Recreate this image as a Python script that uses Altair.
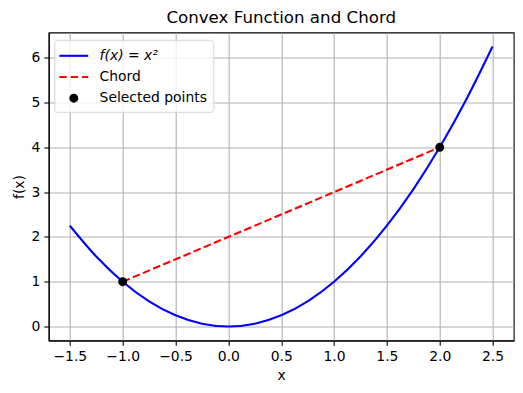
import altair as alt
import pandas as pd

# ---- data ----
curve_x = [-1.5, -1.25, -1.0, -0.75, -0.5, -0.25, 0.0, 0.25, 0.5, 0.75, 1.0,
           1.25, 1.5, 1.75, 2.0, 2.25, 2.5]
curve_y = [2.25, 1.5625, 1.0, 0.5625, 0.25, 0.0625, 0.0, 0.0625, 0.25, 0.5625,
           1.0, 1.5625, 2.25, 3.0625, 4.0, 5.0625, 6.25]
chord_x = [-1.0, 2.0]
chord_y = [1.0, 4.0]
point_x = [-1.0, 2.0]
point_y = [1.0, 4.0]
series_names = ["f(x) = x²", "Chord", "Selected points"]
series_colors = ["#0000ff", "#ff0000", "#000000"]
x_ticks = [-1.5, -1.0, -0.5, 0.0, 0.5, 1.0, 1.5, 2.0, 2.5]
y_ticks = [0, 1, 2, 3, 4, 5, 6]
x_domain = [-1.7, 2.7]
y_domain = [-0.3125, 6.5625]

curve_df = pd.DataFrame({"x": curve_x, "y": curve_y})
chord_df = pd.DataFrame({"x": chord_x, "y": chord_y})
point_df = pd.DataFrame({"x": point_x, "y": point_y,
                         "series": ["Selected points"] * len(point_x)})

# legend / point symbol paths (unit scaled by sqrt(size)/2 = 9px)
line_path = "M-1.6,0H1.6"
dash_path = "M-1.6,0H-0.787M-0.342,0H0.471M0.916,0H1.6"
circ_path = "M0.38,0A0.38,0.38,0,1,1,-0.38,0A0.38,0.38,0,1,1,0.38,0Z"

FONT = "DejaVu Sans"
FS = 13.9

x_enc = alt.X("x:Q", title="x",
              scale=alt.Scale(domain=x_domain, nice=False, zero=False),
              axis=alt.Axis(values=x_ticks, format=".1f"))
y_enc = alt.Y("y:Q", title="f(x)",
              scale=alt.Scale(domain=y_domain, nice=False, zero=False),
              axis=alt.Axis(values=y_ticks, format="d"))


def build(style):
    legend_kwargs = dict(
        title=None, orient="none", legendX=5.6, legendY=7.3, padding=5.5,
        symbolSize=324, symbolStrokeWidth=2.08, symbolOffset=3.5, labelOffset=15.3,
        labelFontSize=FS, labelFont=FONT, labelColor="black", rowPadding=3.2,
        strokeColor="#d5d5d5", fillColor="rgba(255,255,255,0.8)", cornerRadius=3,
    )
    if style is not None:
        legend_kwargs["labelFontStyle"] = style
    legend = alt.Legend(**legend_kwargs)

    curve = alt.Chart(curve_df).mark_line(
        color="#0000ff", strokeWidth=2.08, interpolate="monotone"
    ).encode(x=x_enc, y=y_enc)

    chord = alt.Chart(chord_df).mark_line(
        color="#ff0000", strokeWidth=2.08, strokeDash=[7.7, 3.3]
    ).encode(x="x:Q", y="y:Q")

    pts = alt.Chart(point_df).mark_point(
        filled=True, size=324, strokeWidth=2.08, opacity=1
    ).encode(
        x="x:Q", y="y:Q",
        fill=alt.Fill("series:N", scale=alt.Scale(domain=series_names, range=series_colors), legend=legend),
        stroke=alt.Stroke("series:N", scale=alt.Scale(domain=series_names, range=series_colors), legend=legend),
        shape=alt.Shape("series:N", scale=alt.Scale(domain=series_names, range=[line_path, dash_path, circ_path]), legend=legend),
    )

    chart = alt.layer(curve, chord, pts).properties(
        width=465, height=308,
        title=alt.TitleParams("Convex Function and Chord", fontSize=16.67, fontWeight="normal",
                              font=FONT, color="black", anchor="middle", frame="group", offset=6),
        autosize=alt.AutoSizeParams(type="none"),
        padding={"left": 40.7, "top": 24.5, "right": 1.3, "bottom": 44.5},
        background="white",
    ).configure_view(
        stroke="black", strokeWidth=1.1
    ).configure_axis(
        labelFont=FONT, titleFont=FONT, labelFontSize=FS, titleFontSize=FS,
        labelColor="black", titleColor="black", titleFontWeight="normal",
        domainColor="black", domainWidth=1.1, tickColor="black", tickWidth=1.1,
        tickSize=4.86, labelPadding=4, gridColor="#b0b0b0", gridWidth=1.1,
        gridOpacity=1, titlePadding=5,
    )
    return chart


candidates = [
    alt.ExprRef("datum.value === 'f(x) = x²' ? 'italic' : 'normal'"),
    None,
]
chart = None
for st in candidates:
    try:
        c = build(st)
        c.to_dict()
        chart = c
        break
    except Exception:
        continue

chart.save("out.html", embed_options={"renderer": "svg", "actions": False})
